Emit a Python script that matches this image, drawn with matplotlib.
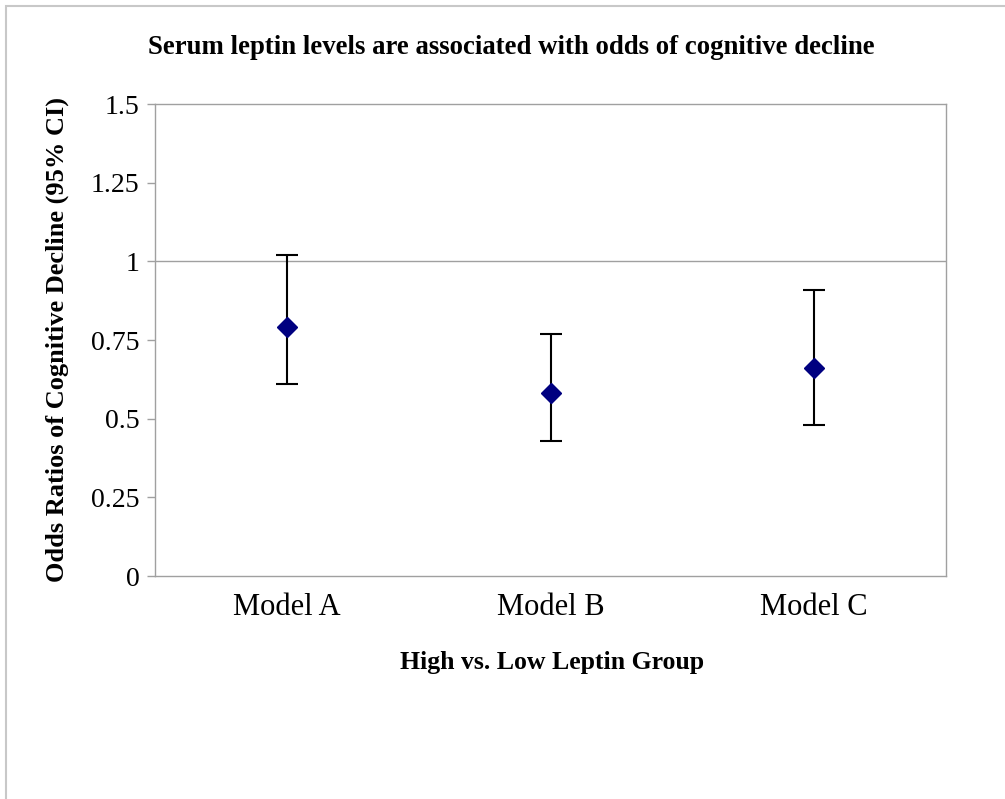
import matplotlib.pyplot as plt
from matplotlib.patches import Rectangle

models = ["Model A", "Model B", "Model C"]
odds_ratio = [0.79, 0.58, 0.66]
ci_low = [0.61, 0.43, 0.48]
ci_high = [1.02, 0.77, 0.91]
y_ticks = [0, 0.25, 0.5, 0.75, 1, 1.25, 1.5]
y_tick_labels = ["0", "0.25", "0.5", "0.75", "1", "1.25", "1.5"]

plt.rcParams["font.family"] = ["Liberation Serif", "DejaVu Serif"]

fig = plt.figure(figsize=(10.05, 7.99), dpi=100)
W, H = 1005, 799
ax = fig.add_axes([155 / W, 1 - 576 / H, (946 - 155) / W, (576 - 104) / H])

# light frame around the whole chart area
fig.patches.append(Rectangle((6 / W, -0.05), 1.2, 1 - 6 / H + 0.05,
                             transform=fig.transFigure, fill=False,
                             edgecolor="#c8c8c8", linewidth=1.5))

x = list(range(len(models)))
yerr = [[o - lo for o, lo in zip(odds_ratio, ci_low)],
        [hi - o for o, hi in zip(odds_ratio, ci_high)]]

ax.axhline(1, color="#a0a0a0", linewidth=1.0, zorder=1)
ax.errorbar(x, odds_ratio, yerr=yerr, fmt="D", color="#000080",
            markersize=10, ecolor="black", elinewidth=1.5, capsize=8,
            capthick=1.5, zorder=3)

ax.set_xlim(-0.5, 2.5)
ax.set_ylim(0, 1.5)
ax.set_yticks(y_ticks)
ax.set_yticklabels(y_tick_labels, fontsize=20)
ax.set_xticks(x)
ax.set_xticklabels(models, fontsize=22)
ax.tick_params(axis="x", length=0, pad=12)
ax.tick_params(axis="y", direction="out", length=6, color="#a0a0a0",
               width=1, pad=5)
for s in ax.spines.values():
    s.set_color("#a0a0a0")
    s.set_linewidth(1.0)

fig.text(511 / W, 1 - 47 / H, "Serum leptin levels are associated with odds of cognitive decline",
         ha="center", va="center", fontsize=19.3, fontweight="bold")
fig.text(57 / W, 1 - 340 / H, "Odds Ratios of Cognitive Decline (95% CI)",
         ha="center", va="center", rotation=90, fontsize=19, fontweight="bold")
fig.text(552 / W, 1 - 662 / H, "High vs. Low Leptin Group",
         ha="center", va="center", fontsize=18.5, fontweight="bold")

fig.savefig("out.png", dpi=100, facecolor="white")
